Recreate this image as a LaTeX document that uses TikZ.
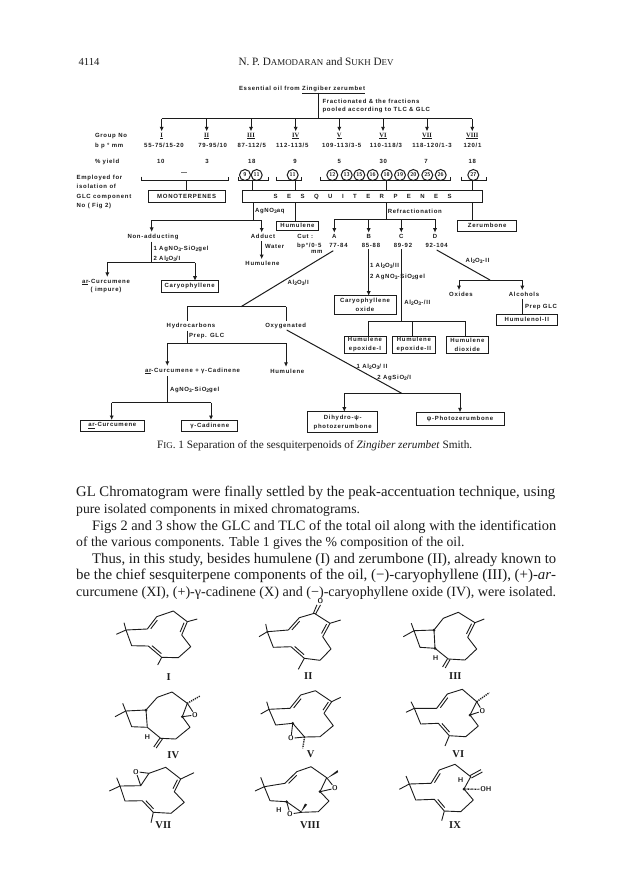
\documentclass[tikz,border=0pt]{standalone}
\usepackage{fontspec}
\usepackage{graphicx}
\usetikzlibrary{arrows.meta,calc}
\setmainfont{Liberation Serif}
\newfontfamily\dg[LetterSpace=12]{Liberation Sans}
\definecolor{ink}{HTML}{1c1c1c}
\newcommand\sbs[1]{\raisebox{-1pt}{\fontsize{5}{5}\selectfont #1}}
\newcommand\fitw[2]{\resizebox{#1pt}{!}{#2}}
\newcommand\dbl[3]{\draw[bond] ($#1!.15!#2!#3!90:#2$) -- ($#2!.15!#1!-#3!90:#1$);}
\tikzset{
 con/.style={line width=1pt,color=ink},
 arr/.style={con,-{Latex[length=4.5pt,width=4.2pt]}},
 lab/.style={font=\fontsize{6}{8.5}\selectfont\dg\bfseries,text=ink,inner sep=0pt,outer sep=2pt,align=center},
 lw/.style={lab,anchor=base west,outer sep=0pt,align=left},
 rom/.style={font=\fontsize{6.5}{7}\selectfont\bfseries,text=ink,inner sep=0pt,outer sep=1.5pt},
 bx/.style={lab,draw=ink,line width=1pt,outer sep=0pt},
 cn/.style={draw=ink,circle,line width=1pt,inner sep=0pt,minimum size=11pt,font=\fontsize{5.5}{5.5}\selectfont\sffamily\bfseries,text=ink},
 bond/.style={line width=.9pt,color=ink,line join=round},
 body/.style={anchor=base west,inner sep=0pt,text=ink,font=\fontsize{12}{12}\selectfont},
 nm/.style={font=\fontsize{10.5}{11}\selectfont\bfseries,text=ink,inner sep=0pt},
 atm/.style={font=\fontsize{7}{7}\selectfont\sffamily\bfseries,text=ink,inner sep=.6pt},
 dtt/.style={line width=1.4pt,color=ink,dash pattern=on 1.2pt off 1pt},
}
\begin{document}
\begin{tikzpicture}[x=1pt,y=-1pt]
\useasboundingbox (0,0) rectangle (624,892);
\fill[white] (0,0) rectangle (624,892);

% ---- page head
\node[body] (pg) at (78.3,65.5) {\fitw{21}{4114}};
\node[body] (hd) at (238.3,65.5) {\fitw{155}{N. P. D{\fontsize{9.5}{9.5}\selectfont AMODARAN} and S{\fontsize{9.5}{9.5}\selectfont UKH} D{\fontsize{9.5}{9.5}\selectfont EV}}};

% ---- title
\node[lw] (ess) at (239,90.3) {Essential oil from \underline{Zingiber zerumbet}};
\coordinate (jt) at (318.7,92.5);
\coordinate (busL) at (161.7,118.5);
\coordinate (busR) at (472.3,118.5);
\node[lw] (fr1) at (322.5,103.5) {Fractionated \& the fractions};
\node[lw] (fr2) at (322.5,111.5) {pooled according to TLC \& GLC};
\draw[con] (jt) -- (jt |- busL);
\draw[con] (busL) -- (busR);

\foreach \n/\x/\t in {a/161.7/I,b/206.7/II,c/251/III,d/295.7/IV,e/339.3/V,f/383/VI,g/427/VII,h/472.3/VIII}{
  \node[rom] (r\n) at (\x,136) {\underline{\t}};
  \draw[arr] (\x,118.5) -- (r\n.north);
}
\node[lw] (gn) at (95,137) {Group No};
\node[lw] (bp) at (95,147) {b p ° mm};
\node[lab] (va) at (164,145.5) {55-75/15-20};
\node[lab] (vb) at (212.7,145.5) {79-95/10};
\node[lab] (vc) at (251.7,145.5) {87-112/5};
\node[lab] (vd) at (292.3,145.5) {112-113/5};
\node[lab] (ve) at (341.7,145.5) {109-113/3-5};
\node[lab] (vf) at (386,145.5) {110-118/3};
\node[lab] (vg) at (432,145.5) {118-120/1-3};
\node[lab] (vh) at (472.5,145.5) {120/1};
\node[lw] (yl) at (95,163.2) {\% yield};
\foreach \n/\x/\t in {a/160.7/10,b/207/3,c/251.7/18,d/295/9,e/339.3/5,f/383.3/30,g/426/7,h/472.3/18}{
  \node[lab] (y\n) at (\x,161) {\t};
}
\node[lw] (em1) at (76.7,179) {Employed for};
\node[lw] (em2) at (76.7,188.3) {isolation of};
\node[lw] (em3) at (76.7,198) {GLC component};
\node[lw] (em4) at (76.7,207.3) {No ( Fig 2)};

% ---- braces and circled numbers
\foreach \n/\a/\b/\s in {1/141/228/186.7,2/238.3/268.3/252.7,3/276/301.7/295,4/320/450.7/386,5/461.7/486/472.7}{
  \coordinate (bl\n) at (\a,180.7);
  \coordinate (br\n) at (\b,180.7);
  \coordinate (bs\n) at (\s,180.7);
  \draw[con] ($(bl\n)+(0,-4)$) -- (bl\n) -- (br\n) -- ($(br\n)+(0,-4)$);
}
\node[lab] (dash) at (184,173.6) {—};
\foreach \n/\x/\t in {p/245/9,q/256.7/11,r/292.7/11,s/332.3/12,t/346.7/13,u/359.3/15,v/372.7/16,w/386.7/18,x/400/19,y/413.3/20,z/427.3/25,za/440.7/26,zb/473.3/27}{
  \node[cn] (c\n) at (\x,175) {\t};
}
\node[bx,minimum width=76.7pt,minimum height=11.6pt] (mono) at (186.65,196.5) {MONOTERPENES};
\node[bx,minimum width=240pt,minimum height=11.6pt] (sesq) at (362.7,196.5) {\makebox[178pt][s]{S\hfil E\hfil S\hfil Q\hfil U\hfil I\hfil T\hfil E\hfil R\hfil P\hfil E\hfil N\hfil E\hfil S}};
\draw[con] (bs1) -- (bs1 |- mono.north);
\foreach \n in {2,3,4,5}{ \draw[con] (bs\n) -- (bs\n |- sesq.north); }

% ---- second level
\node[bx,minimum width=41.6pt,minimum height=9pt] (humu) at (297.5,225.5) {Humulene};
\node[bx,minimum width=59pt,minimum height=11pt] (zeru) at (487.2,225.5) {Zerumbone};
\coordinate (s1) at (253.3,220);
\coordinate (bn) at (151.7,220);
\coordinate (ba) at (261.7,220);
\draw[con] (s1 |- sesq.south) -- (s1);
\draw[con] (bn) -- (ba);
\node[lw] (ag) at (255,212) {AgNO\sbs{3}aq};
\coordinate (s2) at (295,220);
\draw[con] (s2 |- sesq.south) -- (s2 |- humu.north);
\coordinate (s3) at (386,219.3);
\draw[con] (s3 |- sesq.south) -- (s3);
\node[lw] (rf) at (387.8,213) {Refractionation};
\coordinate (s4) at (472.3,215);
\draw[con] (s4 |- sesq.south) -- (s4 |- zeru.north);

\node[lab] (nonad) at (153,236.7) {Non-adducting};
\node[lab] (adct) at (263,236.7) {Adduct};
\draw[arr] (bn) -- (bn |- nonad.north);
\draw[arr] (ba) -- (ba |- adct.north);

\coordinate (bA) at (334.3,219.3);
\coordinate (bB) at (368.7,219.3);
\coordinate (bC) at (401.3,219.3);
\coordinate (bD) at (435,219.3);
\draw[con] (bA) -- (bD);
\node[lab] (fA) at (334.3,236.7) {A};
\node[lab] (fB) at (368.7,236.7) {B};
\node[lab] (fC) at (401.3,236.7) {C};
\node[lab] (fD) at (435,236.7) {D};
\foreach \n in {A,B,C,D}{ \draw[arr] (b\n) -- (f\n.north); }
\node[lab] (cA) at (338.5,245) {77-84};
\node[lab] (cB) at (371,245) {85-88};
\node[lab] (cC) at (403,245) {89-92};
\node[lab] (cD) at (436.7,245) {92-104};
\node[lw] (cut) at (297.3,238.7) {Cut :};
\node[lw] (cut2) at (297,247) {bp°/0·5};
\node[lw] (cut3) at (311,253) {mm};

% ---- non-adducting
\coordinate (na1) at (151.7,262.7);
\coordinate (naL) at (107.3,262.7);
\coordinate (naR) at (195,262.7);
\draw[con] (nonad.south -| na1) -- (na1);
\draw[con] (naL) -- (naR);
\node[lw] (na2) at (153.5,250.5) {1 AgNO\sbs{3}-SiO\sbs{2}gel};
\node[lw] (na3) at (153.5,260.5) {2 Al\sbs{2}O\sbs{3}/I};
\node[lab,align=center] (arc1) at (106,285.8) {\underline{ar}-Curcumene\\( impure)};
\node[bx,minimum width=57.3pt,minimum height=11.3pt] (cary) at (189.65,286.35) {Caryophyllene};
\draw[arr] (naL) -- (arc1.north -| naL);
\draw[arr] (naR) -- (cary.north -| naR);
% ---- adduct
\node[lab] (hum2) at (262.5,263.3) {Humulene};
\draw[arr] (adct.south -| ba) -- (hum2.north -| ba);
\node[lw] (wat) at (265,248) {Water};

% ---- fraction A
\coordinate (dA) at (333.3,250.7);
\coordinate (dAe) at (241,306.7);
\draw[con] (dA) -- (dAe);
\node[lw] (alA) at (287.7,284) {Al\sbs{2}O\sbs{3}/I};
\coordinate (hL) at (187.3,306.7);
\coordinate (hR) at (286,306.7);
\draw[con] (hL) -- (hR);
\node[lab] (hyd) at (191,325.7) {Hydrocarbons};
\node[lab] (oxy) at (285.7,325.7) {Oxygenated};
\draw[con] (hL) -- (hyd.north -| hL);
\draw[con] (hR) -- (oxy.north -| hR);
\coordinate (p1) at (187.3,343.3);
\draw[con] (hyd.south -| p1) -- (p1);
\node[lw] (pg1) at (189,337.8) {Prep. GLC};
\coordinate (p2L) at (167.3,343.3);
\coordinate (p2R) at (286,343.3);
\draw[con] (p2L) -- (p2R);
\node[lab] (acg) at (192.5,371) {\underline{ar}-Curcumene + γ-Cadinene};
\node[lab] (hum3) at (287.3,371) {Humulene};
\draw[arr] (p2L) -- (acg.north -| p2L);
\draw[arr] (p2R) -- (hum3.north -| p2R);
\coordinate (q1) at (167.3,402.7);
\draw[con] (acg.south -| q1) -- (q1);
\node[lw] (ag2) at (170,391) {AgNO\sbs{3}-SiO\sbs{2}gel};
\coordinate (qL) at (111.7,402.7);
\coordinate (qR) at (211,402.7);
\draw[con] (qL) -- (qR);
\node[bx,minimum width=63.3pt,minimum height=11.7pt] (arcb) at (112.35,425.85) {\underline{ar}-Curcumene};
\node[bx,minimum width=56pt,minimum height=11.7pt] (cadb) at (209.7,425.85) {γ-Cadinene};
\draw[arr] (qL) -- (qL |- arcb.north);
\draw[arr] (qR) -- (qR |- cadb.north);

% ---- oxygenated
\coordinate (ox1) at (286.7,330);
\coordinate (ox2) at (401.7,393.3);
\draw[con] (ox1) -- (ox2);
\coordinate (oL) at (344.3,393.3);
\coordinate (oR) at (460,393.3);
\draw[con] (oL) -- (oR);
\node[lw] (al3) at (356.7,368.8) {1 Al\sbs{2}O\sbs{3}/ II};
\node[lw] (al4) at (377.3,379.8) {2 AgSiO\sbs{2}/I};
\node[bx,minimum width=70pt,minimum height=21pt] (dih) at (342.7,422.2) {Dihydro-ψ-\\photozerumbone};
\node[bx,minimum width=88pt,minimum height=12.7pt] (psi) at (460,418.65) {ψ-Photozerumbone};
\draw[arr] (oL) -- (oL |- dih.north);
\draw[arr] (oR) -- (oR |- psi.north);

% ---- fraction B
\node[bx,minimum width=62pt,minimum height=18.3pt] (caro) at (365,304.85) {Caryophyllene\\oxide};
\draw[arr] (cB.south -| fB) -- (fB |- caro.north);
\node[lw] (b1) at (370,267) {1 Al\sbs{2}O\sbs{3}/II};
\node[lw] (b2) at (370,278) {2 AgNO\sbs{3}-SiO\sbs{2}gel};

% ---- fraction C
\coordinate (cb) at (401,321.7);
\coordinate (cbL) at (368.3,321.7);
\coordinate (cbM) at (412.3,321.7);
\coordinate (cbR) at (465.7,321.7);
\draw[con] (cC.south -| cb) -- (cb);
\draw[con] (cbL) -- (cbR);
\node[lw] (c1) at (404.3,304.7) {Al\sbs{2}O\sbs{3}-/II};
\node[bx,minimum width=42pt,minimum height=17.3pt] (h1) at (365,344.65) {Humulene\\epoxide-I};
\node[bx,minimum width=42.3pt,minimum height=17.3pt] (h2) at (413.85,344.65) {Humulene\\epoxide-II};
\node[bx,minimum width=42.7pt,minimum height=17.3pt] (h3) at (467.35,344.65) {Humulene\\dioxide};
\draw[con] (cbL) -- (cbL |- h1.north);
\draw[con] (cbM) -- (cbM |- h2.north);
\draw[con] (cbR) -- (cbR |- h3.north);

% ---- fraction D
\coordinate (d1) at (436.7,250);
\coordinate (d2) at (490,280);
\draw[con] (d1) -- (d2);
\coordinate (dL) at (459,280);
\coordinate (dR) at (522.3,280);
\draw[con] (dL) -- (dR);
\node[lw] (d3) at (465.7,262.7) {Al\sbs{2}O\sbs{3}-II};
\node[lab] (oxd) at (461,294.3) {Oxides};
\node[lab] (alc) at (524,294.3) {Alcohols};
\draw[arr] (dL) -- (dL |- oxd.north);
\draw[arr] (dR) -- (dR |- alc.north);
\node[bx,minimum width=61.7pt,minimum height=11pt] (hol) at (526.85,319.8) {Humulenol-II};
\draw[con] (dR |- alc.south) -- (dR |- hol.north);
\node[lw] (pg2) at (525,308) {Prep GLC};

% ---- caption
\node[body] (cap) at (157,448.5) {\fitw{315}{F{\fontsize{9.5}{9.5}\selectfont IG}. 1 Separation of the sesquiterpenoids of \textit{Zingiber zerumbet} Smith.}};

% ---- paragraph
\tikzset{bodyn/.style={body,font=\fontsize{13.7}{14}\selectfont}}
\node[body] (l1) at (76,496.5) {\fitw{479}{GL Chromatogram were finally settled by the peak-accentuation technique, using}};
\node[bodyn] (l2) at (76,513) {pure isolated components in mixed chromatograms.};
\node[body] (l3) at (92,530) {\fitw{464}{Figs 2 and 3 show the GLC and TLC of the total oil along with the identification}};
\node[bodyn] (l4) at (76,546.5) {of the various components. Table 1 gives the \% composition of the oil.};
\node[body] (l5) at (92,563) {\fitw{464}{Thus, in this study, besides humulene (I) and zerumbone (II), already known to}};
\node[body] (l6) at (76,579.5) {\fitw{480}{be the chief sesquiterpene components of the oil, (−)-caryophyllene (III), (+)-\textit{ar}-}};
\node[body] (l7) at (76,596) {\fitw{480}{curcumene (XI), (+)-γ-cadinene (X) and (−)-caryophyllene oxide (IV), were isolated.}};

% ---- structure I
\draw[bond] (116.3,634.3)--(126,630)--(124,622.7);
\draw[bond] (126,630)--(147.3,629)--(156.7,616.7)--(173.3,611)--(187.3,621.7)--(181.7,635)--(190.7,646.7)--(178.3,657.7)--(161.7,657.3)--(148.3,646)--(131.7,645.7)--cycle;
\draw[bond] (187.3,621.7)--(197.3,619) (161.7,657.3)--(157.7,665);
\dbl{(147.3,629)}{(156.7,616.7)}{-2.6pt}
\dbl{(187.3,621.7)}{(181.7,635)}{-2.6pt}
\dbl{(161.7,657.3)}{(148.3,646)}{-2.6pt}
\node[nm] (nI) at (168.7,676.7) {I};

% ---- structure II
\draw[bond] (259,636.7)--(267.3,631.7)--(265.7,624);
\draw[bond] (267.3,631.7)--(288.3,630)--(299.3,617.7)--(314.3,613.3)--(330,623.3)--(322.7,636.7)--(331,649)--(320,660.3)--(304.3,658.3)--(291,646.7)--(273.3,647.3)--cycle;
\draw[bond] (330,623.3)--(340.7,620) (304.3,658.3)--(298.3,669.3);
\dbl{(288.3,630)}{(299.3,617.7)}{-2.6pt}
\dbl{(330,623.3)}{(322.7,636.7)}{-2.6pt}
\dbl{(304.3,658.3)}{(291,646.7)}{-2.6pt}
\node[atm] (oII) at (320.5,601.5) {O};
\draw[bond] (313.6,612.8)--(oII.south west);
\draw[bond] (315.6,614)--(oII.south);
\node[nm] (nII) at (308.3,676) {II};

% ---- structure III
\draw[bond] (403.3,636.7)--(414,630.7)--(411.3,623.3);
\draw[bond] (414,630.7)--(434,630)--(435,648.3)--(420,647.3)--cycle;
\draw[bond] (434,630)--(443.3,618.3)--(458.3,612.3)--(475,622.7)--(467.7,637.3)--(476.7,649)--(465,660)--(448.3,659)--(435,648.3);
\draw[bond] (475,622.7)--(484.3,619);
\dbl{(475,622.7)}{(467.7,637.3)}{-2.6pt}
\draw[bond] (447.6,658.6)--(442.6,667) (450,659.6)--(445.2,668);
\fill[ink] (434,630) circle (1.5);
\fill[ink] (435,648.3) circle (1.5);
\node[atm] (hIII) at (435.7,657.7) {H};
\node[nm] (nIII) at (455.3,676) {III};

% ---- structure IV
\draw[bond] (115,716.7)--(125.7,711)--(122.7,703.3);
\draw[bond] (125.7,711)--(146,710)--(147.3,727.3)--(131.7,726.7)--cycle;
\draw[bond] (146,710)--(157.3,697.3)--(172,692)--(187.3,703.3)--(182.3,716.7)--(190,727.3)--(175.7,739)--(160.7,738.3)--(147.3,727.3);
\draw[dtt] (187.3,703.3)--(200,696);
\node[atm] (oIV) at (195,715) {O};
\draw[bond] (187.3,703.3)--(oIV) (182.3,716.7)--(oIV);
\draw[bond] (160,738)--(153.8,747) (162.4,739)--(156.2,748);
\fill[ink] (146,710) circle (1.5);
\fill[ink] (182.3,716.7) circle (1.5);
\node[atm] (hIV) at (147.3,736.7) {H};
\node[nm] (nIV) at (173.3,755) {IV};

% ---- structure V
\draw[bond] (260.7,714)--(269,709.3)--(266.7,701.7);
\draw[bond] (269,709.3)--(290,708.3)--(300.7,695)--(315.4,690.7)--(331.7,701.7)--(324,713.3)--(333.3,725.7)--(320,736.7)--(304.6,737)--(292.7,723.3)--(275.7,725)--cycle;
\draw[bond] (331.7,701.7)--(340.7,697.3);
\dbl{(290,708.3)}{(300.7,695)}{-2.6pt}
\dbl{(331.7,701.7)}{(324,713.3)}{-2.6pt}
\node[atm] (oV) at (291,738.3) {O};
\draw[bond] (304.6,737)--(oV) (292.7,723.3)--(oV);
\draw[dtt] (304.6,737)--(302.7,748.3);
\fill[ink] (292.7,723.3) circle (1.5);
\node[nm] (nV) at (310.7,754) {V};

% ---- structure VI
\draw[bond] (406,712.3)--(414.3,708.3)--(411,701.7);
\draw[bond] (414.3,708.3)--(436.7,708.3)--(447.3,694)--(462.3,689.3)--(476.7,701.7)--(470,715)--(478.3,726)--(465.7,736.7)--(449.3,735.7)--(438.3,723.3)--(420.7,724)--cycle;
\draw[bond] (449.3,735.7)--(445,746);
\dbl{(436.7,708.3)}{(447.3,694)}{-2.6pt}
\dbl{(449.3,735.7)}{(438.3,723.3)}{-2.6pt}
\node[atm] (oVI) at (482.3,711) {O};
\draw[bond] (476.7,701.7)--(oVI) (470,715)--(oVI);
\draw[dtt] (476.7,701.7)--(489.3,692.7);
\fill[ink] (470,715) circle (1.5);
\node[nm] (nVI) at (458.3,754) {VI};

% ---- structure VII
\draw[bond] (109.3,791)--(120,786)--(116.7,777.7);
\draw[bond] (120,786)--(140.7,785.7)--(149,773.3)--(165.7,767.3)--(180.7,779)--(174.3,791.7)--(184.3,802.3)--(171,813.3)--(153.3,812.3)--(142.3,800.7)--(125,801)--cycle;
\draw[bond] (180.7,779)--(194,772.7) (153.3,812.3)--(151,822.7);
\dbl{(180.7,779)}{(174.3,791.7)}{-2.6pt}
\dbl{(153.3,812.3)}{(142.3,800.7)}{-2.6pt}
\node[atm] (oVII) at (136,771.7) {O};
\draw[bond] (140.7,785.7)--(oVII) (149,773.3)--(oVII);
\node[nm] (nVII) at (163.3,825) {VII};

% ---- structure VIII
\draw[bond] (255,791)--(264.3,786.7)--(260.7,777.3);
\draw[bond] (264.3,786.7)--(285,783.3)--(296.7,771.7)--(311,766.7)--(326.7,777.7)--(320,791.7)--(329,801)--(318.3,811.7)--(301.7,812.3)--(286.7,801.7)--(270,800.7)--cycle;
\dbl{(285,783.3)}{(296.7,771.7)}{-2.6pt}
\fill[ink] (326.7,778.6)--(337.5,770.2)--(338.2,772.2)--cycle;
\fill[ink] (301,812)--(305,803.6)--(307.2,804.6)--cycle;
\node[atm] (oVIII) at (335,788.3) {O};
\draw[bond] (326.7,777.7)--(oVIII) (320,791.7)--(oVIII);
\node[atm] (o8b) at (290,814) {O};
\draw[bond] (301.7,812.3)--(o8b) (286.7,801.7)--(o8b);
\fill[ink] (320,791.7) circle (1.5);
\fill[ink] (286.7,801.7) circle (1.5);
\node[atm] (h8) at (279,810) {H};
\node[nm] (nVIII) at (310,825) {VIII};

% ---- structure IX
\draw[bond] (399.3,789.3)--(409.3,784)--(406,776);
\draw[bond] (409.3,784)--(431,783.3)--(439.3,770)--(455,764.3)--(470.7,776.7)--(464,789)--(473.3,800)--(460.7,811.7)--(444.3,811)--(434.3,799.3)--(415.7,800)--cycle;
\draw[bond] (444.3,811)--(441.7,820.7);
\dbl{(431,783.3)}{(439.3,770)}{-2.6pt}
\dbl{(444.3,811)}{(434.3,799.3)}{-2.6pt}
\draw[bond] (470,775.6)--(481,769.6) (471.4,778)--(482.4,772);
\node[atm] (hIX) at (460.7,780) {H};
\node[atm,anchor=west] (ohIX) at (479.5,789.3) {OH};
\draw[dtt,dash pattern=on .7pt off .7pt] (464,789)--(ohIX.west);
\fill[ink] (464,789) circle (1.5);
\node[nm] (nIX) at (455,825) {IX};
\end{tikzpicture}
\end{document}
